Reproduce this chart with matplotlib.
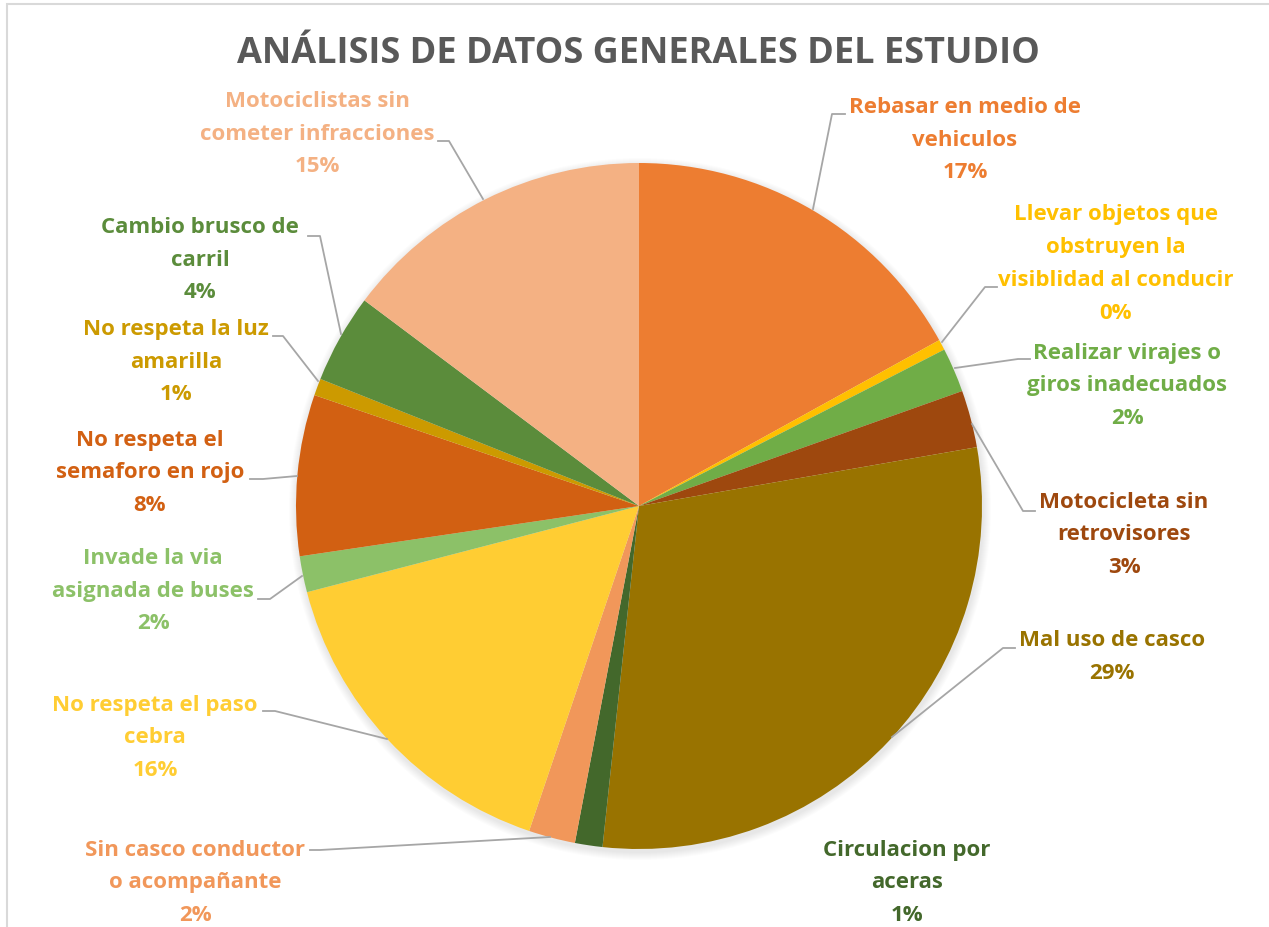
import matplotlib.pyplot as plt
from matplotlib.patches import Rectangle, Circle

plt.rcParams['font.family'] = ['Open Sans', 'DejaVu Sans']

W, H = 1269, 928

categories = [
    "Rebasar en medio de\nvehiculos",
    "Llevar objetos que\nobstruyen la\nvisiblidad al conducir",
    "Realizar virajes o\ngiros inadecuados",
    "Motocicleta sin\nretrovisores",
    "Mal uso de casco",
    "Circulacion por\naceras",
    "Sin casco conductor\no acompañante",
    "No respeta el paso\ncebra",
    "Invade la via\nasignada de buses",
    "No respeta el\nsemaforo en rojo",
    "No respeta la luz\namarilla",
    "Cambio brusco de\ncarril",
    "Motociclistas sin\ncometer infracciones",
]
values = [17.0, 0.5, 2.1, 2.7, 29.5, 1.3, 2.2, 15.8, 1.7, 7.6, 0.8, 4.2, 14.8]
colors = ['#ED7D31', '#FFC000', '#70AD47', '#9E480E', '#997300', '#43682B',
          '#F1975A', '#FFCD33', '#8CC168', '#D26012', '#CC9A00', '#5B8C3B',
          '#F4B183']

# label layout, in pixel coords (x, y from top)
label_pos = [(965, 140), (1116, 264), (1127, 386), (1124, 535), (1112, 657),
             (907, 883), (195, 883), (155, 738), (153, 591), (150, 473),
             (176, 362), (200, 260), (317, 134)]
# leader lines: pie edge -> elbow -> end
leaders = [
    [(813, 210), (832, 115), (845, 115)],
    [(942, 343), (985, 288), (997, 288)],
    [(955, 369), (1018, 360), (1030, 360)],
    [(972, 425), (1023, 512), (1035, 512)],
    [(892, 738), (1003, 649), (1015, 649)],
    None,
    [(550, 838), (320, 851), (310, 851)],
    [(387, 740), (275, 712), (263, 712)],
    [(302, 577), (270, 600), (258, 600)],
    [(297, 477), (263, 480), (250, 480)],
    [(318, 382), (283, 337), (273, 337)],
    [(341, 335), (320, 237), (308, 237)],
    [(483, 200), (449, 142), (438, 142)],
]

cx, cy, R = 639, 507, 343

fig = plt.figure(figsize=(W / 100, H / 100), dpi=100)
ax = fig.add_axes([0, 0, 1, 1])

def fy(y):
    return H - y

# chart border
ax.add_patch(Rectangle((7, -10), W, H - 5 + 10, fill=False, edgecolor='#D9D9D9', linewidth=1.5))

# soft shadow
for k in range(8):
    ax.add_patch(Circle((cx + 1, fy(cy) - 3), R + 8 - k, color='black', alpha=0.012, linewidth=0))

total = sum(values)
ax.pie(values, colors=colors, startangle=90, counterclock=False,
       center=(cx, fy(cy)), radius=R, frame=True,
       wedgeprops=dict(linewidth=0))
ax.set_xlim(0, W)
ax.set_ylim(0, H)
ax.set_aspect('equal')
ax.axis('off')

for name, v, col, pos, ld in zip(categories, values, colors, label_pos, leaders):
    pct = round(v / total * 100)
    ax.text(pos[0], fy(pos[1]), f"{name}\n{pct}%", ha='center', va='center',
            color=col, fontsize=16, fontweight='bold', linespacing=1.73)
    if ld:
        xs = [p[0] for p in ld]
        ys = [fy(p[1]) for p in ld]
        ax.plot(xs, ys, color='#A6A6A6', linewidth=1.3)

ax.text(638, fy(54), "ANÁLISIS DE DATOS GENERALES DEL ESTUDIO", ha='center', va='center',
        color='#595959', fontsize=26, fontweight='bold')

fig.savefig('out.png', dpi=100)
